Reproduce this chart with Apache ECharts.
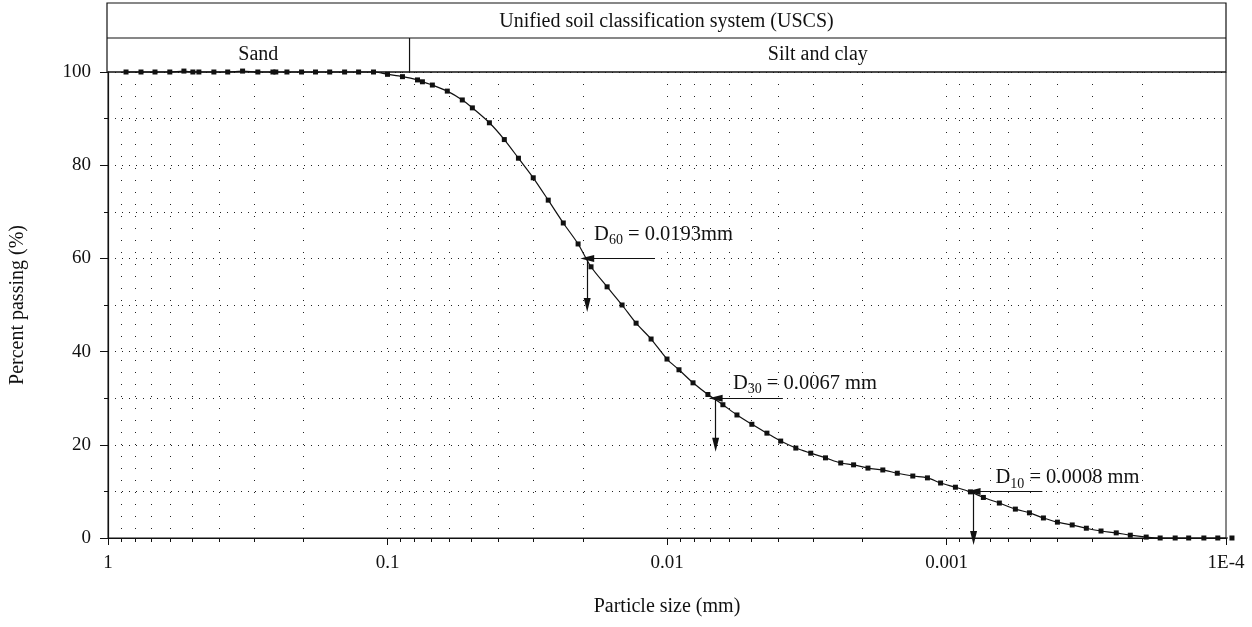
<!DOCTYPE html>
<html><head><meta charset="utf-8">
<script src="https://cdn.jsdelivr.net/npm/echarts@6/dist/echarts.min.js"></script>
<style>html,body{margin:0;padding:0;background:#fff}#c{width:1252px;height:627px}</style>
</head><body><div id="c"></div>
<script>
// ---- data ----
const particleSize = [0.862,0.762,0.679,0.601,0.535,0.497,0.473,0.418,0.373,0.330,0.291,0.257,0.251,0.229,0.203,0.181,0.161,0.1424,0.1269,0.1122,
  0.1,0.0884,0.0781,0.075,0.0691,0.0611,0.054,0.0497,0.0432,0.0382,0.0340,0.0301,0.0266,0.0235,0.0208,0.0187,0.01638,0.01448,0.0129,0.0114,
  0.01,0.00906,0.00807,0.00714,0.00631,0.00562,0.00497,0.00439,0.00392,0.00346,0.00306,0.00271,0.00239,0.00215,0.00191,0.00169,0.0015,0.00132,0.00117,0.00105,
  0.000929,0.000821,0.000738,0.000647,0.000567,0.000505,0.00045,0.000401,0.000355,0.000316,0.00028,0.000247,0.00022,0.000193,0.000172,0.000152,0.000136,0.00012,0.000107,0.0000952];
const percentPassing = [100,100,100,100,100.2,100,100,100,100,100.2,100,100,100,100,100,100,100,100,100,100,
  99.5,99.0,98.3,97.9,97.2,95.9,94.0,92.3,89.1,85.5,81.5,77.3,72.5,67.6,63.1,58.2,53.9,50.0,46.1,42.7,
  38.4,36.1,33.3,30.8,28.6,26.4,24.4,22.5,20.8,19.3,18.2,17.2,16.1,15.7,15.0,14.6,13.9,13.3,12.9,11.8,
  10.9,9.9,8.7,7.5,6.2,5.4,4.3,3.4,2.8,2.1,1.5,1.1,0.6,0.2,0,0,0,0,0,0];

const xTickValues = [1, 0.1, 0.01, 0.001, 0.0001];
const xTickLabels = ['1', '0.1', '0.01', '0.001', '1E-4'];
const minorMultipliers = [1,2,3,4,5,6,7,8,9];
const decadeBases = [0.1, 0.01, 0.001, 0.0001];

// characteristic diameters
const dNames = ['60', '30', '10'];
const dSizes = [0.0193, 0.0067, 0.0008];
const dPercents = [60, 30, 10];
const dArrowTail = [0.01104, 0.00385, 0.000454];
const dArrowDrop = [50, 20, 0];
const dLabelTexts = [' = 0.0193mm', ' = 0.0067 mm', ' = 0.0008 mm'];
const dLabelAt = [[0.01823, 65.2], [0.00581, 33.1], [0.000668, 12.9]];

const headerTitle = 'Unified soil classification system (USCS)';
const zoneNames = ['Sand', 'Silt and clay'];
const sandSiltBoundary = 0.0834;

// ---- build ----
const FONT = "'Liberation Serif', 'Times New Roman', serif";
const INK = '#111';
const lineData = particleSize.map((d, i) => [d, percentPassing[i]]);

const minorValues = [];
decadeBases.forEach(b => minorMultipliers.forEach(m => {
  const v = parseFloat((b * m).toPrecision(6));
  if (v < 1 && v > 0.0001) minorValues.push(v);
}));

function xLabel(v) {
  for (let i = 0; i < xTickValues.length; i++) {
    if (Math.abs(Math.log10(xTickValues[i]) - Math.log10(v)) < 1e-6) return xTickLabels[i];
  }
  return '';
}

const arrowLines = [];
dSizes.forEach((s, i) => {
  arrowLines.push([{ coord: [dArrowTail[i], dPercents[i]] }, { coord: [s, dPercents[i]] }]);
  arrowLines.push([{ coord: [s, dPercents[i]] }, { coord: [s, dArrowDrop[i]] }]);
});
const labelPoints = dNames.map((n, i) => ({
  coord: dLabelAt[i],
  label: { formatter: '{m|D}{s|' + n + '}{m|' + dLabelTexts[i] + '}' }
}));

const option = {
  animation: false,
  backgroundColor: '#fff',
  grid: { left: 107, right: 26, top: 72, bottom: 89, show: true, borderColor: INK, borderWidth: 1, backgroundColor: 'transparent' },
  xAxis: [{
    type: 'log', logBase: 10, inverse: true, min: 0.0001, max: 1,
    name: 'Particle size (mm)', nameLocation: 'middle', nameGap: 59,
    nameTextStyle: { fontFamily: FONT, fontSize: 20, color: INK },
    axisLine: { show: true, lineStyle: { color: INK, width: 1.2 } },
    axisTick: { show: true, length: 7, customValues: xTickValues, lineStyle: { color: INK } },
    axisLabel: { customValues: xTickValues, formatter: xLabel, fontFamily: FONT, fontSize: 19, color: INK, margin: 16 },
    splitLine: { show: false }
  }, {
    type: 'log', logBase: 10, inverse: true, min: 0.0001, max: 1, position: 'bottom',
    axisLine: { show: false },
    axisTick: { show: true, length: 4, customValues: minorValues, lineStyle: { color: INK } },
    axisLabel: { show: false },
    splitLine: { show: true, lineStyle: { color: '#222', width: 1, type: [1, 11] } }
  }],
  yAxis: {
    type: 'value', min: 0, max: 100, interval: 20,
    name: 'Percent passing (%)', nameLocation: 'middle', nameRotate: 90, nameGap: 80,
    nameTextStyle: { fontFamily: FONT, fontSize: 20, color: INK },
    axisLine: { show: true, lineStyle: { color: INK, width: 1.2 } },
    axisTick: { show: true, length: 8, lineStyle: { color: INK } },
    minorTick: { show: true, splitNumber: 2, length: 4, lineStyle: { color: INK } },
    axisLabel: { fontFamily: FONT, fontSize: 19, color: INK, margin: 17 },
    splitLine: { show: true, lineStyle: { color: '#222', width: 1, type: [1, 6] } },
    minorSplitLine: { show: true, lineStyle: { color: '#222', width: 1, type: [1, 6] } }
  },
  series: [{
    type: 'line', xAxisIndex: 0, data: lineData, clip: false,
    smooth: 0.3, symbol: 'rect', symbolSize: 5, showSymbol: true,
    itemStyle: { color: INK }, lineStyle: { color: INK, width: 1.2 },
    markLine: {
      silent: true, symbol: ['none', 'triangle'], symbolSize: [7, 14],
      label: { show: false },
      lineStyle: { color: INK, width: 1.2, type: 'solid' },
      data: arrowLines
    },
    markPoint: {
      silent: true, symbol: 'circle', symbolSize: 0,
      itemStyle: { color: 'transparent' },
      label: {
        show: true, position: 'right', distance: 0,
        rich: {
          m: { fontFamily: FONT, fontSize: 20.5, color: INK, lineHeight: 26, verticalAlign: 'middle' },
          s: { fontFamily: FONT, fontSize: 14, color: INK, lineHeight: 14, verticalAlign: 'bottom' }
        }
      },
      data: labelPoints
    }
  }]
};

const chart = echarts.init(document.getElementById('c'));
chart.setOption(option);

const gl = 107, gr = 1252 - 26, hTop = 3, hMid = 38, hBot = 72;
const xDiv = chart.convertToPixel({ xAxisIndex: 0 }, sandSiltBoundary);
const txt = (t, x, y) => ({ type: 'text', x: x, y: y, style: { text: t, fontFamily: FONT, fontSize: 20, fill: INK, align: 'center', verticalAlign: 'middle' } });
chart.setOption({
  graphic: [
    { type: 'rect', shape: { x: gl, y: hTop, width: gr - gl, height: hBot - hTop }, style: { fill: 'none', stroke: INK, lineWidth: 1.2 } },
    { type: 'line', shape: { x1: gl, y1: hMid, x2: gr, y2: hMid }, style: { stroke: INK, lineWidth: 1.2 } },
    { type: 'line', shape: { x1: xDiv, y1: hMid, x2: xDiv, y2: hBot }, style: { stroke: INK, lineWidth: 1.2 } },
    txt(headerTitle, (gl + gr) / 2, (hTop + hMid) / 2 + 1),
    txt(zoneNames[0], (gl + xDiv) / 2, (hMid + hBot) / 2),
    txt(zoneNames[1], (xDiv + gr) / 2, (hMid + hBot) / 2)
  ]
});
</script></body></html>
